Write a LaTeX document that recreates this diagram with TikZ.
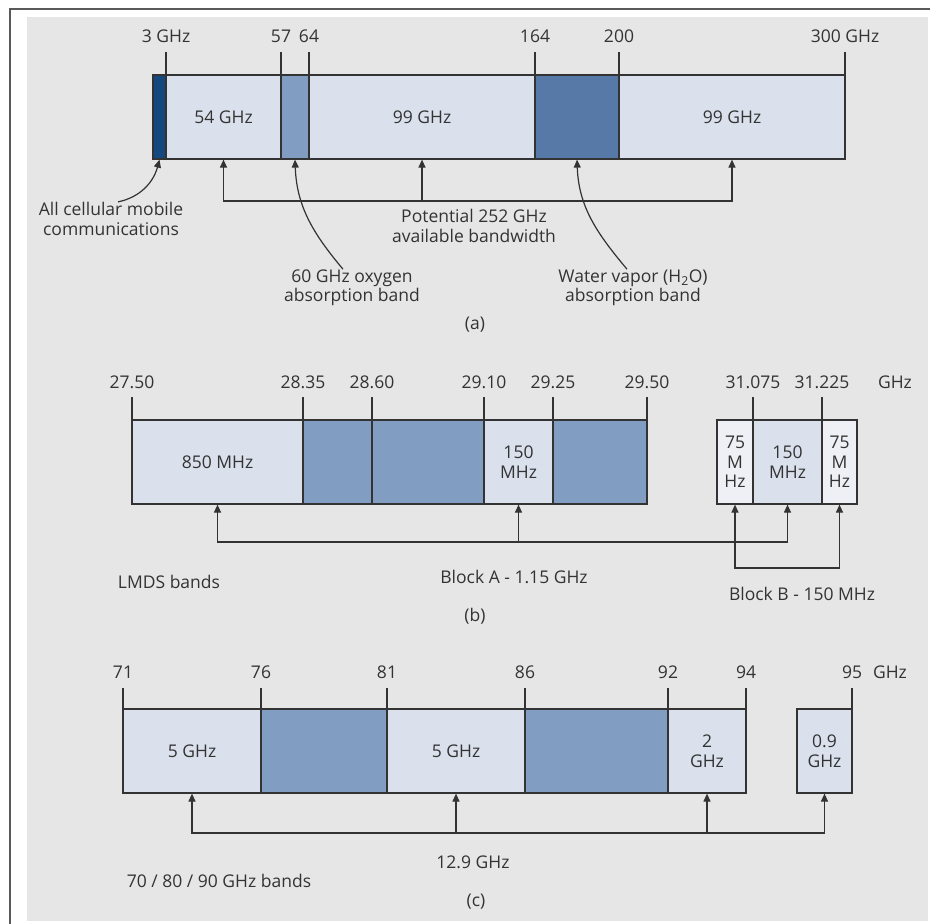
\documentclass[tikz,border=0pt]{standalone}
\usepackage{fontspec}
\setmainfont{Open Sans}
\usetikzlibrary{arrows.meta,positioning}
\definecolor{BgClr}{HTML}{E6E6E6}
\definecolor{LineClr}{HTML}{333333}
\definecolor{LightClr}{HTML}{DAE0EC}
\definecolor{PaleClr}{HTML}{EEF0F5}
\definecolor{MedClr}{HTML}{819DC2}
\definecolor{WaterClr}{HTML}{5679A7}
\definecolor{NavyClr}{HTML}{15487F}
\tikzset{
  band/.style={draw=LineClr,minimum height=84pt,inner sep=0pt,align=center},
  lbl/.style={align=center,inner sep=0pt},
  tk/.style={inner sep=0pt}
}
\newcommand\band[6][]{%
  \node[band,#1,minimum width={(#4-#3)*1pt}] (#2) at ({(#3+#4)/2},#5) {#6};}

\begin{document}
\begin{tikzpicture}[x=1pt,y=-1pt,line width=1.2pt,color=LineClr,
  font=\fontsize{17.5}{19.5}\selectfont,>={Triangle[length=8pt,width=7pt]}]
\useasboundingbox (0,0) rectangle (930,924);
\fill[BgClr] (27,17) rectangle (928,921);
\draw[line width=1.3pt,gray!70!black] (930,9) -- (10,9) -- (10,924);

% (a)
\band[fill=NavyClr]{bcell}{153}{166}{117}{}
\band[fill=LightClr]{b54}{166}{281}{117}{54 GHz}
\band[fill=MedClr]{box}{281}{309}{117}{}
\band[fill=LightClr]{b99a}{309}{535}{117}{99 GHz}
\band[fill=WaterClr]{bwv}{535}{619}{117}{}
\band[fill=LightClr]{b99b}{619}{845}{117}{99 GHz}
\foreach \x/\t in {166/3 GHz,281/57,309/64,535/164,619/200,845/300 GHz}{
  \node[tk] (ta\x) at (\x,36) {\t};
  \draw (\x,52) -- (\x,75);
}
\coordinate (ja) at (0,201);
\draw[<->] (b54.south) |- (b99b.south |- ja) -- (b99b.south);
\draw[->] (b99a.south |- ja) -- (b99a.south);

\node[lbl] (cell) at (111,219) {All cellular mobile\\communications};
\node[lbl] (pot) at (474,226) {Potential 252 GHz\\available bandwidth};
\node[lbl] (oxy) at (352,288) {60 GHz oxygen\\absorption band};
\node[lbl] (wv) at (633,288) {Water vapor (H\textsubscript{2}O)\\absorption band};
\node (capa) at (475,325) {(a)};

\draw[->] ([xshift=7pt]cell.north) to[out=12,in=-105] (bcell.south);
\draw[->] ([xshift=-9pt]oxy.north) to[out=130,in=-88] (box.south);
\draw[->] ([xshift=-6pt]wv.north) to[out=130,in=-88] (bwv.south);

% (b)
\band[fill=LightClr]{b850}{132}{303}{462}{850 MHz}
\band[fill=MedClr]{bm1}{303}{372}{462}{}
\band[fill=MedClr]{bm2}{372}{484}{462}{}
\band[fill=LightClr]{b150a}{484}{553}{462}{150\\MHz}
\band[fill=MedClr]{bm3}{553}{647}{462}{}
\band[fill=PaleClr]{b75a}{717}{753}{462}{75\\M\\Hz}
\band[fill=LightClr]{b150b}{753}{822}{462}{150\\MHz}
\band[fill=PaleClr]{b75b}{822}{857}{462}{75\\M\\Hz}
\foreach \x/\t in {132/27.50,303/28.35,372/28.60,484/29.10,553/29.25,647/29.50,753/31.075,822/31.225}{
  \node[tk] (tb\x) at (\x,382) {\t};
  \draw (\x,397) -- (\x,421);
}
\node[tk] (ghzb) at (895,382) {GHz};
\coordinate (jb) at (0,542);
\coordinate (jbb) at (0,568);
\draw[<->] (b850.south) |- (b150b.south |- jb) -- (b150b.south);
\draw[->] (b150a.south |- jb) -- (b150a.south);
\draw[<->] (b75a.south) |- (b75b.south |- jbb) -- (b75b.south);

\node[lbl] (lmds) at (169,582) {LMDS bands};
\node[lbl] (blka) at (514,577) {Block A - 1.15 GHz};
\node[lbl] (blkb) at (802,594) {Block B - 150 MHz};
\node (capb) at (475,616) {(b)};

% (c)
\band[fill=LightClr]{c5a}{123}{261}{751}{5 GHz}
\band[fill=MedClr]{cm1}{261}{387}{751}{}
\band[fill=LightClr]{c5b}{387}{525}{751}{5 GHz}
\band[fill=MedClr]{cm2}{525}{668}{751}{}
\band[fill=LightClr]{c2}{668}{746}{751}{2\\GHz}
\band[fill=LightClr]{c09}{797}{852}{751}{0.9\\GHz}
\foreach \x/\t in {123/71,261/76,387/81,525/86,668/92,746/94,852/95}{
  \node[tk] (tc\x) at (\x,672) {\t};
  \draw (\x,688) -- (\x,709);
}
\node[tk] (ghzc) at (890,672) {GHz};
\coordinate (jc) at (0,833);
\draw[<->] (c5a.south) |- (c09.south |- jc) -- (c09.south);
\foreach \n in {c5b,c2} \draw[->] (\n.south |- jc) -- (\n.south);

\node[lbl] (tot) at (473,862) {12.9 GHz};
\node[lbl] (eband) at (219,881) {70 / 80 / 90 GHz bands};
\node (capc) at (476,902) {(c)};
\end{tikzpicture}
\end{document}
